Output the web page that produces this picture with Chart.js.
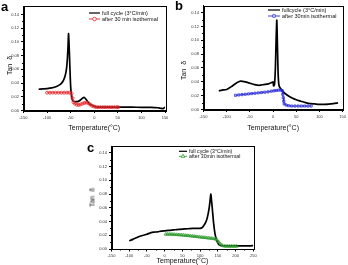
<!DOCTYPE html>
<html>
<head>
<meta charset="utf-8">
<script src="https://cdn.jsdelivr.net/npm/chart.js@4.4.0/dist/chart.umd.min.js"></script>
<style>
  body { margin: 0; background: #fff; width: 348px; height: 265px; overflow: hidden; position: relative; font-family: "Liberation Sans", Arial, sans-serif; }
  .box { position: absolute; }
  .lbl { position: absolute; font-weight: bold; font-size: 13px; line-height: 13px; color: #000; }
  .ytitle { position: absolute; font-size: 7px; color: #111; transform: rotate(-90deg); transform-origin: center; white-space: nowrap; }
</style>
</head>
<body>
<div class="box" style="left:0;top:0;width:174px;height:132px"><canvas id="chart-a"></canvas></div>
<div class="box" style="left:174px;top:0;width:174px;height:132px"><canvas id="chart-b"></canvas></div>
<div class="box" style="left:80px;top:132px;width:190px;height:133px"><canvas id="chart-c"></canvas></div>

<div class="lbl" style="left:1px;top:0px">a</div>
<div class="lbl" style="left:175px;top:-1px">b</div>
<div class="lbl" style="left:87px;top:141px">c</div>

<div class="ytitle" style="left:-6px;top:62px;width:30px;text-align:center">Tan&nbsp;&nbsp;δ</div>
<div class="ytitle" style="left:168px;top:67px;width:30px;text-align:center">Tan&nbsp;&nbsp;δ</div>
<div class="ytitle" style="left:77px;top:194px;width:30px;text-align:center">Tan&nbsp;&nbsp;δ</div>

<script>
// tick labels
const yTicks = [0, 0.02, 0.04, 0.06, 0.08, 0.10, 0.12, 0.14];
const xTicksAB = [-150, -100, -50, 0, 50, 100, 150];
const xTicksC = [-150, -100, -50, 0, 50, 100, 150, 200, 250];

// panel a
const aFullX = [-118, -110, -100, -90, -80, -72, -66, -62, -59, -57, -55.5, -54.5, -53, -51.5, -50, -48, -45, -40, -35, -30, -25, -21, -17, -12, -6, 0, 10, 30, 50, 80, 100, 120, 135, 142, 147, 150];
const aFullY = [0.031, 0.0315, 0.032, 0.033, 0.035, 0.038, 0.043, 0.050, 0.060, 0.075, 0.095, 0.112, 0.090, 0.060, 0.035, 0.020, 0.014, 0.013, 0.013, 0.015, 0.018, 0.019, 0.016, 0.011, 0.008, 0.006, 0.005, 0.005, 0.005, 0.005, 0.0045, 0.0045, 0.004, 0.003, 0.003, 0.005];
const aIsoX = [-100, -94, -88, -82, -76, -70, -64, -58, -53, -48, -46, -44, -41, -37, -33, -29, -25, -21, -17, -13, -9, -5, -1, 3, 8, 13, 18, 23, 28, 33, 38, 43, 48, 51];
const aIsoY = [0.026, 0.026, 0.026, 0.026, 0.026, 0.026, 0.026, 0.026, 0.026, 0.025, 0.018, 0.012, 0.010, 0.0085, 0.008, 0.009, 0.010, 0.011, 0.0115, 0.011, 0.009, 0.007, 0.006, 0.005, 0.0048, 0.0048, 0.0048, 0.0048, 0.0048, 0.0048, 0.0048, 0.0048, 0.0048, 0.0048];

// panel b
const bFullX = [-117, -110, -100, -90, -80, -70, -60, -50, -40, -30, -20, -10, -3, 0, 1, 3, 5, 6.5, 8, 9.5, 11, 13, 20, 30, 40, 50, 60, 70, 80, 90, 100, 110, 120, 130, 140];
const bFullY = [0.027, 0.028, 0.029, 0.033, 0.038, 0.041, 0.040, 0.038, 0.036, 0.035, 0.036, 0.037, 0.039, 0.040, 0.034, 0.036, 0.060, 0.100, 0.129, 0.090, 0.050, 0.034, 0.027, 0.021, 0.017, 0.014, 0.012, 0.010, 0.0085, 0.008, 0.0075, 0.0075, 0.0078, 0.0085, 0.0095];
const bIsoX = [-81, -74, -67, -60, -53, -46, -39, -32, -25, -18, -11, -4, 2, 7, 12, 17, 20, 21, 22, 23, 24, 28, 33, 40, 47, 54, 61, 68, 75, 82];
const bIsoY = [0.0205, 0.021, 0.0215, 0.022, 0.0225, 0.023, 0.0235, 0.024, 0.0245, 0.025, 0.0255, 0.0265, 0.027, 0.0275, 0.028, 0.028, 0.027, 0.022, 0.017, 0.012, 0.008, 0.0065, 0.0055, 0.005, 0.005, 0.005, 0.005, 0.005, 0.005, 0.005];

// panel c
const cFullX = [-100, -90, -80, -70, -60, -50, -40, -30, -20, -10, 0, 10, 20, 30, 40, 50, 60, 70, 80, 90, 100, 105, 110, 115, 120, 125, 128, 130, 132, 135, 138, 142, 147, 152, 158, 165, 180, 200, 220, 240, 250];
const cFullY = [0.012, 0.014, 0.0165, 0.0185, 0.020, 0.0215, 0.0235, 0.0245, 0.025, 0.026, 0.0265, 0.027, 0.0275, 0.028, 0.0285, 0.029, 0.0293, 0.0297, 0.030, 0.030, 0.030, 0.031, 0.034, 0.038, 0.045, 0.058, 0.070, 0.080, 0.072, 0.055, 0.038, 0.022, 0.012, 0.007, 0.005, 0.0045, 0.0045, 0.0045, 0.0045, 0.0045, 0.005];
const cIsoX = [3, 8, 13, 18, 23, 28, 33, 38, 43, 48, 53, 58, 63, 68, 73, 78, 83, 88, 93, 98, 103, 108, 113, 118, 123, 128, 133, 138, 143, 148, 153, 158, 163, 168, 173, 178, 183, 188, 193, 198, 203];
const cIsoY = [0.0215, 0.0215, 0.0215, 0.0214, 0.0213, 0.0211, 0.0209, 0.0207, 0.0205, 0.0203, 0.0201, 0.0198, 0.0195, 0.0193, 0.019, 0.0187, 0.0184, 0.0181, 0.0178, 0.0175, 0.0172, 0.0169, 0.0166, 0.0163, 0.016, 0.0157, 0.0154, 0.015, 0.0145, 0.013, 0.010, 0.007, 0.005, 0.0042, 0.004, 0.004, 0.004, 0.004, 0.004, 0.004, 0.004];

const FONT = "'Liberation Sans', Arial, sans-serif";

function pts(xs, ys) {
    return xs.map((x, i) => ({ x: x, y: ys[i] }));
}

// cadre + petits ticks mineurs
const framePlugin = {
    id: 'frame',
    afterDraw(chart) {
        const ctx = chart.ctx;
        const a = chart.chartArea;
        ctx.save();
        ctx.strokeStyle = '#000';
        ctx.lineWidth = 1;
        ctx.strokeRect(Math.round(a.left) + 0.5, Math.round(a.top) + 0.5, Math.round(a.right - a.left), Math.round(a.bottom - a.top));
        // minor ticks
        const xs = chart.scales.x, ys = chart.scales.y;
        ctx.beginPath();
        for (let v = xs.min + 25; v < xs.max; v += 50) {
            const px = Math.round(xs.getPixelForValue(v)) + 0.5;
            ctx.moveTo(px, a.bottom);
            ctx.lineTo(px, a.bottom + 1.5);
        }
        for (let v = 0.01; v < 0.15; v += 0.02) {
            const py = Math.round(ys.getPixelForValue(v)) + 0.5;
            ctx.moveTo(a.left, py);
            ctx.lineTo(a.left - 1.5, py);
        }
        ctx.stroke();
        ctx.restore();
    }
};

// légende dessinée dans la zone du graphique
const legendPlugin = {
    id: 'miniLegend',
    afterDatasetsDraw(chart, args, opts) {
        const ctx = chart.ctx;
        ctx.save();
        chart.data.datasets.forEach((ds, i) => {
            const y = opts.y + i * opts.gap;
            const x0 = opts.x, x1 = opts.x + opts.len;
            ctx.strokeStyle = ds.borderColor;
            ctx.lineWidth = i === 0 ? 1.2 : 0.9;
            ctx.beginPath();
            ctx.moveTo(x0, y);
            ctx.lineTo(x1, y);
            ctx.stroke();
            if (ds.pointRadius > 0) {
                ctx.fillStyle = '#fff';
                ctx.lineWidth = 0.8;
                Chart.helpers.drawPoint(ctx, { pointStyle: ds.pointStyle, radius: ds.pointRadius + 0.3, borderWidth: 0.8 }, (x0 + x1) / 2, y);
            }
            ctx.fillStyle = '#111';
            ctx.font = opts.fontSize + 'px ' + FONT;
            ctx.textBaseline = 'middle';
            ctx.fillText(ds.label, x1 + 2, y + 0.3);
        });
        ctx.restore();
    }
};

function buildChart(id, p) {
    const ctx = document.getElementById(id).getContext('2d');
    return new Chart(ctx, {
        type: 'line',
        data: {
            datasets: [{
                label: p.labels[0],
                data: pts(p.fullX, p.fullY),
                borderColor: '#000',
                borderWidth: 1.7,
                pointRadius: 0,
                tension: 0.2,
                order: 2
            }, {
                label: p.labels[1],
                data: pts(p.isoX, p.isoY),
                borderColor: p.color,
                backgroundColor: '#fff',
                borderWidth: 0.9,
                pointStyle: p.marker,
                pointRadius: p.marker === 'triangle' ? 1.8 : 1.5,
                pointBorderWidth: 0.8,
                pointBackgroundColor: 'rgba(255,255,255,0)',
                tension: 0,
                order: 1
            }]
        },
        options: {
            responsive: false,
            animation: false,
            devicePixelRatio: 1,
            layout: { padding: { left: 0, right: p.padRight, top: p.padTop, bottom: 0 } },
            plugins: {
                legend: { display: false },
                tooltip: { enabled: false },
                miniLegend: p.legend
            },
            scales: {
                x: {
                    type: 'linear',
                    min: p.xMin,
                    max: p.xMax,
                    afterBuildTicks: s => { s.ticks = p.xTicks.map(v => ({ value: v })); },
                    afterFit: s => { s.height = p.xH; },
                    ticks: { font: { size: 4, family: FONT }, color: '#333', padding: 2, maxRotation: 0, autoSkip: false },
                    grid: { display: true, drawOnChartArea: false, drawTicks: true, tickLength: 2.5, color: '#000' },
                    border: { display: true, color: '#000', width: 1 },
                    title: { display: true, text: 'Temperature(°C)', font: { size: 7, family: FONT }, color: '#111', padding: { top: p.titlePad, bottom: 0 } }
                },
                y: {
                    min: 0,
                    max: p.yMax,
                    afterBuildTicks: s => { s.ticks = yTicks.map(v => ({ value: v })); },
                    afterFit: s => { s.width = p.yW; },
                    ticks: { font: { size: 4, family: FONT }, color: '#333', padding: 2, callback: v => v.toFixed(2) },
                    grid: { display: true, drawOnChartArea: false, drawTicks: true, tickLength: 2.5, color: '#000' },
                    border: { display: true, color: '#000', width: 1 }
                }
            }
        },
        plugins: [framePlugin, legendPlugin]
    });
}

function setSize(id, w, h) {
    const c = document.getElementById(id);
    c.width = w; c.height = h;
    c.style.width = w + 'px'; c.style.height = h + 'px';
}

setSize('chart-a', 174, 132);
setSize('chart-b', 174, 132);
setSize('chart-c', 190, 133);

buildChart('chart-a', {
    labels: ['full cycle (3°C/min)', 'after 30 min isothermal'],
    fullX: aFullX, fullY: aFullY, isoX: aIsoX, isoY: aIsoY,
    color: '#e8262a', marker: 'circle',
    xMin: -150, xMax: 150, xTicks: xTicksAB, yMax: 0.1525,
    yW: 23.5, xH: 21.5, padRight: 9, padTop: 6, titlePad: 1,
    legend: { x: 89, y: 13, gap: 6, len: 11, fontSize: 5.5 }
});

buildChart('chart-b', {
    labels: ['fullcycle (3°C/min)', 'after 30min isothermal'],
    fullX: bFullX, fullY: bFullY, isoX: bIsoX, isoY: bIsoY,
    color: '#2b2bd6', marker: 'rect',
    xMin: -150, xMax: 150, xTicks: xTicksAB, yMax: 0.15,
    yW: 29.5, xH: 22.5, padRight: 4.5, padTop: 5.7, titlePad: 1,
    legend: { x: 94, y: 10, gap: 6, len: 12, fontSize: 5.5 }
});

buildChart('chart-c', {
    labels: ['full cycle (3°C/min)', 'after 30min isothermal'],
    fullX: cFullX, fullY: cFullY, isoX: cIsoX, isoY: cIsoY,
    color: '#2f9a2f', marker: 'triangle',
    xMin: -150, xMax: 250, xTicks: xTicksC, yMax: 0.15,
    yW: 31.5, xH: 16, padRight: 16.7, padTop: 14, titlePad: 0,
    legend: { x: 99, y: 19.3, gap: 5, len: 8, fontSize: 5.2 }
});
</script>
</body>
</html>
